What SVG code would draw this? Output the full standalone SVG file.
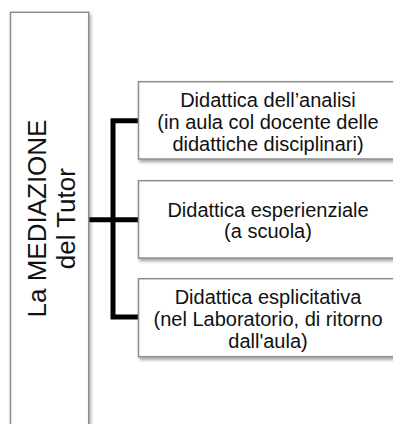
<svg xmlns="http://www.w3.org/2000/svg" width="393" height="424" viewBox="0 0 393 424">
<defs>
<filter id="sh" x="-10%" y="-10%" width="130%" height="130%">
<feDropShadow dx="1.5" dy="2.5" stdDeviation="1.5" flood-color="#000" flood-opacity="0.35"/>
</filter>
<style>
.box{fill:#fff;stroke:#8c8c8c;stroke-width:1.5;filter:url(#sh)}
.t{font-family:"Liberation Sans",Arial,sans-serif;font-size:20px;fill:#111;text-anchor:middle}
.tv{font-family:"Liberation Sans",Arial,sans-serif;font-size:26px;fill:#111;text-anchor:middle}
.con{fill:none;stroke:#000;stroke-width:5;stroke-linejoin:miter;stroke-linecap:butt}
</style>
</defs>
<g id="connectors">
<path class="con" d="M139,120.8 H113 V317 H139"/>
<path class="con" d="M88.7,219.7 H139.5"/>
</g>
<g id="mediazione">
<rect class="box" x="10.5" y="12.3" width="78.2" height="430"/>
<text class="tv" transform="translate(46,218.5) rotate(-90)">La MEDIAZIONE</text>
<text class="tv" transform="translate(75,218.7) rotate(-90)">del Tutor</text>
</g>
<g id="analisi">
<rect class="box" x="138.5" y="81.7" width="259" height="77.3"/>
<text class="t" x="268" y="107.3">Didattica dell’analisi</text>
<text class="t" x="268" y="129">(in aula col docente delle</text>
<text class="t" x="268" y="150.5">didattiche disciplinari)</text>
</g>
<g id="esperienziale">
<rect class="box" x="138.5" y="180.7" width="259" height="77.3"/>
<text class="t" x="268" y="216.7">Didattica esperienziale</text>
<text class="t" x="268" y="237.7">(a scuola)</text>
</g>
<g id="esplicitativa">
<rect class="box" x="138.5" y="278.7" width="259" height="78"/>
<text class="t" x="268" y="304.3">Didattica esplicitativa</text>
<text class="t" x="268" y="326">(nel Laboratorio, di ritorno</text>
<text class="t" x="268" y="347.5">dall'aula)</text>
</g>
</svg>
